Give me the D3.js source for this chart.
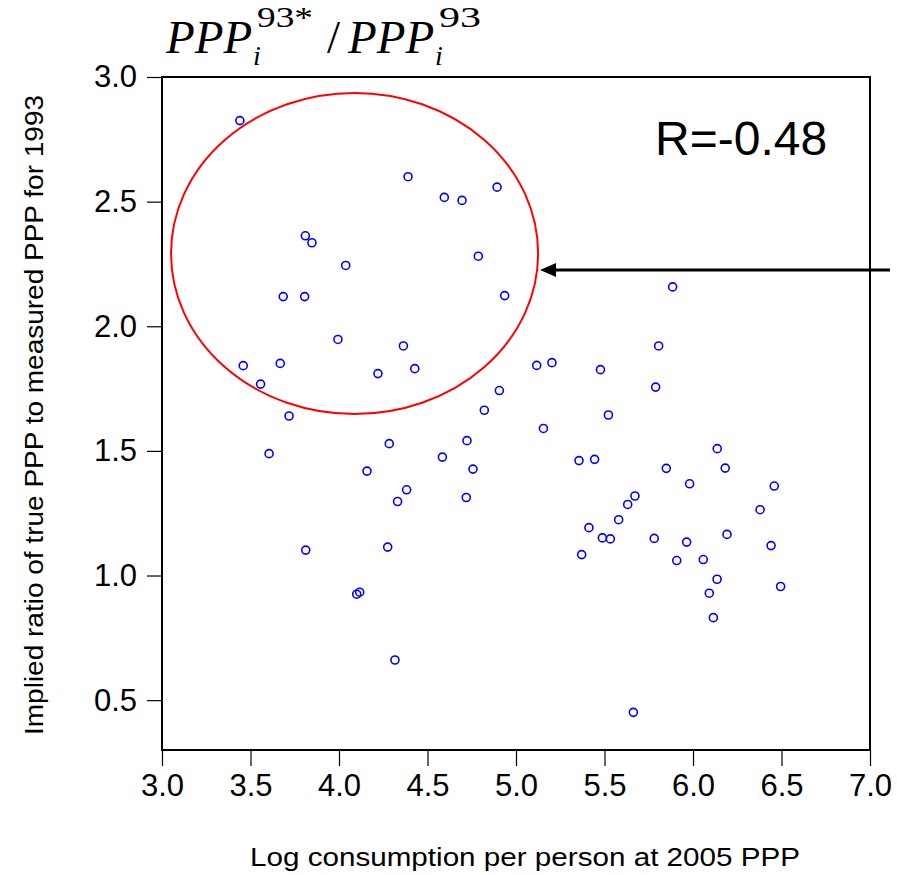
<!DOCTYPE html>
<html>
<head>
<meta charset="utf-8">
<script src="https://cdn.jsdelivr.net/npm/d3@7"></script>
<style>
  body { margin: 0; background: #fff; }
  svg { display: block; }
</style>
</head>
<body>
<svg id="chart" width="897" height="875"></svg>
<script>
// Log consumption per person at 2005 PPP
const logConsumption = [
  3.44, 4.39, 4.595, 3.81, 3.847, 4.038, 3.685, 3.806, 4.893, 4.695,
  4.787, 4.936, 3.994, 4.364, 3.459, 3.668, 4.220, 4.428, 3.557, 3.718,
  4.284, 3.605, 4.584, 4.158, 4.382, 4.331, 5.117, 5.203, 5.477, 4.906,
  4.821, 5.155, 4.723, 4.757, 5.356, 5.444, 4.719, 5.885, 5.806, 5.789,
  5.522, 6.137, 5.849, 6.182, 5.981, 6.459, 5.672, 5.631, 6.379, 3.812,
  4.275, 4.100, 4.117, 4.316, 5.580, 5.412, 5.488, 5.533, 5.781, 5.371,
  5.964, 6.192, 6.441, 5.908, 6.058, 6.136, 6.092, 6.495, 6.115, 5.663
];
// Implied ratio of true PPP to measured PPP for 1993
const impliedRatio = [
  2.825, 2.600, 2.517, 2.363, 2.335, 2.244, 2.119, 2.119, 2.558, 2.505,
  2.281, 2.123, 1.947, 1.921, 1.842, 1.851, 1.810, 1.830, 1.768, 1.640,
  1.529, 1.489, 1.475, 1.419, 1.344, 1.297, 1.843, 1.854, 1.826, 1.742,
  1.663, 1.590, 1.541, 1.427, 1.461, 1.466, 1.313, 2.158, 1.921, 1.756,
  1.644, 1.509, 1.430, 1.431, 1.368, 1.359, 1.319, 1.285, 1.264, 1.102,
  1.114, 0.925, 0.933, 0.661, 1.224, 1.192, 1.151, 1.147, 1.149, 1.084,
  1.134, 1.165, 1.120, 1.060, 1.064, 0.985, 0.929, 0.956, 0.831, 0.451
];
const xTicks = [3.0, 3.5, 4.0, 4.5, 5.0, 5.5, 6.0, 6.5, 7.0];
const yTicks = [0.5, 1.0, 1.5, 2.0, 2.5, 3.0];
const xDomain = [3, 7];
const yDomain = [0.3, 3.0];
const xLabel = "Log consumption per person at 2005 PPP";
const yLabel = "Implied ratio of true PPP to measured PPP for 1993";
const corrLabel = "R=-0.48";
// highlight ellipse (data units) and arrow
const ellipseCenter = [4.088, 2.292];
const ellipseRadii = [1.037, 0.644];
const arrowFrom = [7.113, 2.226];
const arrowTo = [5.136, 2.226];

(function () {
const svg = d3.select("#chart");
const pL = 162, pR = 870, pT = 77, pB = 750;
const x = d3.scaleLinear().domain(xDomain).range([pL, pR]);
const y = d3.scaleLinear().domain(yDomain).range([pB, pT]);

const sans = "'Liberation Sans', Arial, sans-serif";
const serif = "'Liberation Serif', 'Times New Roman', serif";

// axes
const xAxis = svg.append("g").attr("transform", `translate(0,${pB})`)
  .call(d3.axisBottom(x).tickValues(xTicks).tickFormat(d3.format(".1f")).tickSize(16).tickPadding(8));
const yAxis = svg.append("g").attr("transform", `translate(${pL},0)`)
  .call(d3.axisLeft(y).tickValues(yTicks).tickFormat(d3.format(".1f")).tickSize(15).tickPadding(10));
[xAxis, yAxis].forEach(g => {
  g.select(".domain").remove();
  g.selectAll(".tick line").attr("stroke", "#000").attr("stroke-width", 1.2);
  g.selectAll(".tick text").attr("font-family", sans).attr("font-size", 31).attr("fill", "#000");
});

// frame
svg.append("rect").attr("x", pL).attr("y", pT)
  .attr("width", pR - pL).attr("height", pB - pT)
  .attr("fill", "none").attr("stroke", "#000").attr("stroke-width", 2);

// points
const pts = logConsumption.map((v, i) => [v, impliedRatio[i]]);
svg.append("g").selectAll("circle").data(pts).join("circle")
  .attr("cx", d => x(d[0])).attr("cy", d => y(d[1])).attr("r", 4)
  .attr("fill", "none").attr("stroke", "#0000ff").attr("stroke-width", 1.6);

// ellipse
svg.append("ellipse")
  .attr("cx", x(ellipseCenter[0])).attr("cy", y(ellipseCenter[1]))
  .attr("rx", x(ellipseCenter[0] + ellipseRadii[0]) - x(ellipseCenter[0]))
  .attr("ry", y(ellipseCenter[1] - ellipseRadii[1]) - y(ellipseCenter[1]))
  .attr("fill", "none").attr("stroke", "#ff0000").attr("stroke-width", 2);

// arrow
const ax1 = x(arrowFrom[0]), ay = y(arrowFrom[1]), ax2 = x(arrowTo[0]);
svg.append("line").attr("x1", ax1).attr("y1", ay).attr("x2", ax2 + 14).attr("y2", ay)
  .attr("stroke", "#000").attr("stroke-width", 3);
svg.append("path")
  .attr("d", `M${ax2},${ay} L${ax2 + 16},${ay - 7} L${ax2 + 16},${ay + 7} Z`)
  .attr("fill", "#000");

// R label
svg.append("text").attr("x", 655).attr("y", 155)
  .attr("font-family", sans).attr("font-size", 48).attr("fill", "#000").text(corrLabel);

// axis titles
svg.append("text").attr("x", 525).attr("y", 866)
  .attr("text-anchor", "middle").attr("font-family", sans).attr("font-size", 25)
  .attr("textLength", 550).attr("lengthAdjust", "spacingAndGlyphs")
  .attr("fill", "#000").text(xLabel);
svg.append("text").attr("transform", `translate(43,415) rotate(-90)`)
  .attr("text-anchor", "middle").attr("font-family", sans).attr("font-size", 25)
  .attr("textLength", 640).attr("lengthAdjust", "spacingAndGlyphs")
  .attr("fill", "#000").text(yLabel);

// title: PPP_i^{93*} / PPP_i^{93}  (one text element, positioned tspans)
const t = svg.append("text").attr("font-family", serif).attr("fill", "#000");
t.append("tspan").attr("x", 166).attr("y", 53).attr("font-size", 47).attr("font-style", "italic").text("PPP");
t.append("tspan").attr("x", 253).attr("y", 65).attr("font-size", 28).attr("font-style", "italic").text("i");
t.append("tspan").attr("x", 257).attr("y", 27).attr("font-size", 30)
  .attr("textLength", 56).attr("lengthAdjust", "spacingAndGlyphs").text("93*");
t.append("tspan").attr("x", 327).attr("y", 53).attr("font-size", 47).text("/");
t.append("tspan").attr("x", 348).attr("y", 53).attr("font-size", 47).attr("font-style", "italic").text("PPP");
t.append("tspan").attr("x", 435).attr("y", 65).attr("font-size", 28).attr("font-style", "italic").text("i");
t.append("tspan").attr("x", 439).attr("y", 27).attr("font-size", 30)
  .attr("textLength", 42).attr("lengthAdjust", "spacingAndGlyphs").text("93");
})();
</script>
</body>
</html>
